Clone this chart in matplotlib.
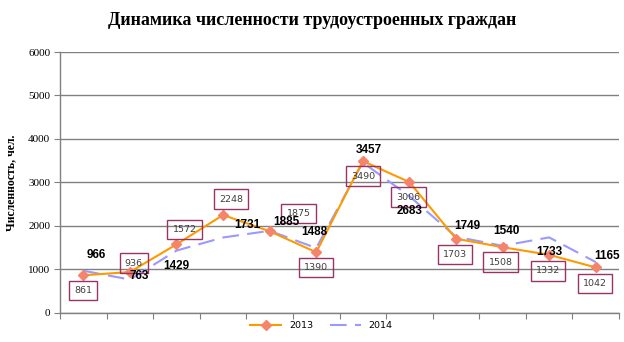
import matplotlib
matplotlib.use("Agg")
import matplotlib.pyplot as plt
import numpy as np

title = "Динамика численности трудоустроенных граждан"
ylabel = "Численность, чел."
series_names = ["2013", "2014"]
values_2013 = [861, 936, 1572, 2248, 1875, 1390, 3490, 3006, 1703, 1508, 1332, 1042]
values_2014 = [966, 763, 1429, 1731, 1885, 1488, 3457, 2683, 1749, 1540, 1733, 1165]
yticks = [0, 1000, 2000, 3000, 4000, 5000, 6000]

# label offsets in pixels (dx, dy with y up)
off_2013 = [(0, -15), (4, 9), (8, 15), (8, 16), (29, 18), (0, -15),
            (0, -15), (-1, -15), (-1, -16), (-2, -15), (-1, -16), (-1, -16)]
off_2014 = [(13, 16), (9, 4), (0, -15), (24, 12), (17, 9), (-2, 16),
            (6, 12), (0, -15), (11, 11), (4, 15), (0, -15), (11, 6)]

fig = plt.figure(figsize=(6.24, 3.42), dpi=100)
ax = fig.add_axes([60/624, 1-312.7/342, 559/624, (312.7-52)/342])

n = len(values_2013)
x = np.arange(n)

ax.plot(x, values_2014, color="#9999FF", lw=1.5, ls=(0, (8, 4)), label=series_names[1], zorder=3)
ax.plot(x, values_2013, color="#FF9900", lw=1.5, marker="D", ms=5,
        markerfacecolor="#F4846A", markeredgecolor="#F4846A", label=series_names[0], zorder=4)

for i, v in enumerate(values_2013):
    ax.annotate(str(v), (x[i], v), xytext=off_2013[i], textcoords="offset pixels",
                ha="center", va="center", fontsize=6.8, color="#404040",
                family="DejaVu Sans",
                bbox=dict(boxstyle="square,pad=0.55", fc="none", ec="#993366", lw=1),
                zorder=5)
for i, v in enumerate(values_2014):
    ax.annotate(str(v), (x[i], v), xytext=off_2014[i], textcoords="offset pixels",
                ha="center", va="center", fontsize=8.5, color="black",
                family="Liberation Sans", fontweight="bold", zorder=6)

ax.set_xlim(-0.5, n - 0.5)
ax.set_ylim(0, 6000)
ax.set_yticks(yticks)
ax.set_yticklabels([str(t) for t in yticks], family="Liberation Serif", fontsize=8)
ax.yaxis.grid(True, color="#808080", lw=1)
ax.set_axisbelow(True)
ax.set_xticks(np.arange(-0.5, n, 1.0))
ax.set_xticklabels([])
ax.tick_params(axis="x", direction="out", length=4, color="#808080")
ax.tick_params(axis="y", direction="out", length=4, color="#808080", pad=3)
for s in ["top", "right"]:
    ax.spines[s].set_visible(False)
for s in ["left", "bottom"]:
    ax.spines[s].set_color("#808080")
    ax.spines[s].set_linewidth(1)

ax.set_ylabel(ylabel, family="Liberation Serif", fontweight="bold", fontsize=8.5, labelpad=8)
fig.text(0.5, 0.94, title, ha="center", va="center", family="Liberation Serif",
         fontweight="bold", fontsize=13)

handles, labels = ax.get_legend_handles_labels()
leg = fig.legend(handles[::-1], labels[::-1], loc="center", bbox_to_anchor=(0.515, 0.047),
                 ncol=2, frameon=False, prop={"family": "DejaVu Sans", "size": 6.8},
                 handlelength=3.3, columnspacing=1.8)

fig.savefig("out.png", dpi=100)
